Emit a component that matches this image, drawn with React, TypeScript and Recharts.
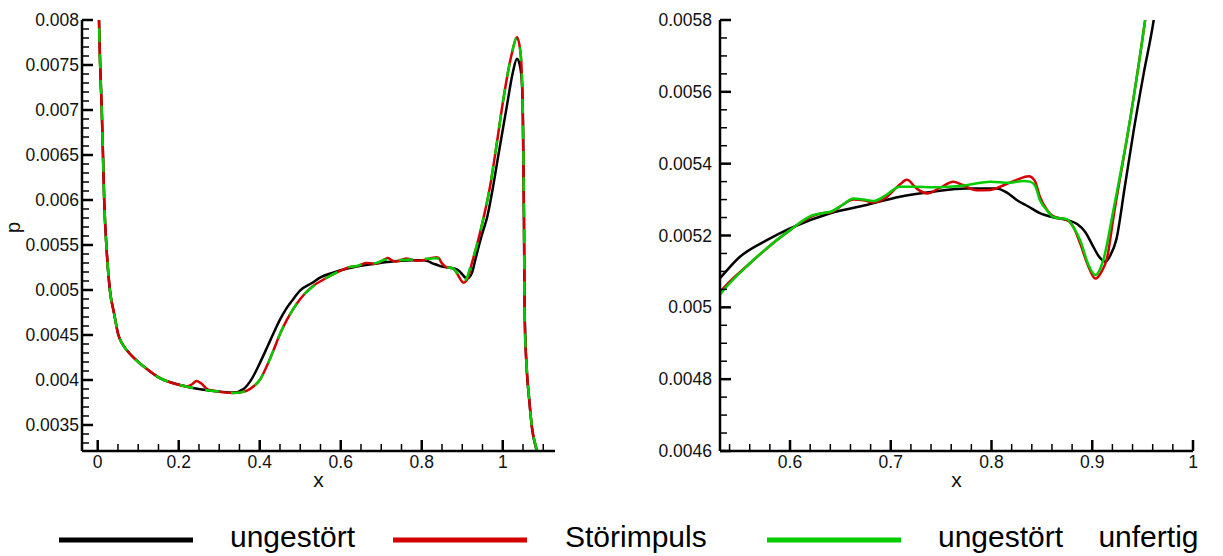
import React from 'react';
import { LineChart, Line, XAxis, YAxis } from 'recharts';

// ungestört (black)
const xBlack = [
  0.002, 0.006, 0.01, 0.013, 0.016, 0.022, 0.03, 0.04, 0.051, 0.061, 0.072, 0.088, 0.104, 0.128, 0.154,
  0.203, 0.253, 0.302, 0.335, 0.36, 0.38, 0.4, 0.42, 0.434, 0.45, 0.466, 0.483, 0.5, 0.53, 0.55, 0.577,
  0.6, 0.64, 0.676, 0.709, 0.742, 0.775, 0.805, 0.815, 0.825, 0.837, 0.848, 0.862, 0.875, 0.885, 0.893,
  0.901, 0.907, 0.913, 0.918, 0.924, 0.932, 0.941, 0.951, 0.961, 0.975, 0.99, 1.01, 1.025, 1.035, 1.042,
  1.047, 1.05, 1.052, 1.054, 1.059, 1.065, 1.072, 1.084, 1.09,
];
const pBlack = [
  0.0082, 0.0075, 0.007, 0.0065, 0.006, 0.00545, 0.005, 0.00475, 0.0045, 0.0044, 0.00433, 0.00425,
  0.004185, 0.0041, 0.00402, 0.003944, 0.003897, 0.00387, 0.00386, 0.0039, 0.00401, 0.004185, 0.00438,
  0.004519, 0.00467, 0.004796, 0.0049, 0.004995, 0.00508, 0.00514, 0.005187, 0.00522, 0.005262, 0.005285,
  0.005308, 0.005322, 0.005331, 0.005331, 0.00532, 0.005299, 0.00528, 0.005262, 0.00525, 0.005243,
  0.005232, 0.00521, 0.005169, 0.00514, 0.005127, 0.005145, 0.00519, 0.00533, 0.00549, 0.00565, 0.0058,
  0.00612, 0.00652, 0.00704, 0.00742, 0.00757, 0.0075, 0.00733, 0.0069, 0.006, 0.0048, 0.00413, 0.0038,
  0.00347, 0.00321, 0.0031,
];

// Störimpuls (red)
const xRed = [
  0.002, 0.006, 0.01, 0.013, 0.016, 0.022, 0.03, 0.04, 0.051, 0.061, 0.072, 0.088, 0.104, 0.128, 0.154,
  0.203, 0.22, 0.232, 0.244, 0.256, 0.27, 0.285, 0.302, 0.335, 0.368, 0.385, 0.4, 0.417, 0.434, 0.45,
  0.467, 0.483, 0.5, 0.53, 0.56, 0.6, 0.623, 0.632, 0.64, 0.652, 0.663, 0.673, 0.683, 0.695, 0.709, 0.716,
  0.726, 0.736, 0.749, 0.762, 0.772, 0.785, 0.799, 0.812, 0.825, 0.837, 0.843, 0.848, 0.855, 0.861, 0.868,
  0.875, 0.882, 0.888, 0.896, 0.903, 0.909, 0.915, 0.921, 0.938, 0.9525, 0.969, 0.985, 1.0015, 1.022,
  1.035, 1.044, 1.049, 1.0525, 1.054, 1.059, 1.065, 1.072, 1.084, 1.09,
];
const pRed = [
  0.0082, 0.0075, 0.007, 0.0065, 0.006, 0.00545, 0.005, 0.00475, 0.0045, 0.0044, 0.00433, 0.00425,
  0.004185, 0.0041, 0.00402, 0.003944, 0.00393, 0.00395, 0.00399, 0.00396, 0.0039, 0.00388, 0.00387,
  0.003855, 0.00388, 0.00393, 0.004, 0.00415, 0.00433, 0.00451, 0.004667, 0.00479, 0.0049, 0.00504,
  0.005122, 0.005215, 0.005255, 0.005262, 0.005264, 0.005285, 0.0053, 0.005298, 0.005292, 0.005305,
  0.005342, 0.005355, 0.00533, 0.005317, 0.005333, 0.00535, 0.00534, 0.005326, 0.005327, 0.00534,
  0.005355, 0.005365, 0.005352, 0.005308, 0.005272, 0.005254, 0.005248, 0.005243, 0.00522, 0.005178,
  0.005115, 0.00508, 0.005098, 0.005141, 0.00525, 0.00553, 0.0058, 0.00616, 0.00662, 0.00712, 0.00762,
  0.007808, 0.00763, 0.00707, 0.00578, 0.0047, 0.004148, 0.0038, 0.003481, 0.003222, 0.0031,
];

// ungestört unfertig (green)
const xGreen = [
  0.002, 0.006, 0.01, 0.013, 0.016, 0.022, 0.03, 0.04, 0.051, 0.061, 0.072, 0.088, 0.104, 0.128, 0.154,
  0.203, 0.253, 0.302, 0.335, 0.368, 0.385, 0.4, 0.417, 0.434, 0.45, 0.467, 0.483, 0.5, 0.53, 0.56, 0.6,
  0.623, 0.632, 0.64, 0.652, 0.663, 0.673, 0.683, 0.695, 0.709, 0.725, 0.742, 0.775, 0.799, 0.818, 0.832,
  0.838, 0.843, 0.848, 0.855, 0.861, 0.868, 0.875, 0.882, 0.888, 0.896, 0.903, 0.911, 0.921, 0.938,
  0.9525, 0.969, 0.985, 1.0015, 1.022, 1.035, 1.044, 1.049, 1.0525, 1.054, 1.059, 1.065, 1.072, 1.084,
  1.09,
];
const pGreen = [
  0.0082, 0.0075, 0.007, 0.0065, 0.006, 0.00545, 0.005, 0.00475, 0.0045, 0.0044, 0.00433, 0.00425,
  0.004185, 0.0041, 0.00402, 0.003944, 0.003897, 0.00387, 0.003855, 0.00388, 0.00393, 0.004, 0.00415,
  0.00433, 0.00451, 0.004667, 0.00479, 0.0049, 0.005034, 0.005122, 0.005215, 0.005257, 0.005262,
  0.005266, 0.005285, 0.005303, 0.0053, 0.005296, 0.005312, 0.005336, 0.005336, 0.005334, 0.00534,
  0.00535, 0.005347, 0.005352, 0.00535, 0.00534, 0.005299, 0.00527, 0.005252, 0.005248, 0.005245,
  0.00522, 0.005187, 0.00512, 0.00509, 0.005132, 0.005271, 0.00553, 0.0058, 0.00616, 0.00662, 0.00712,
  0.00762, 0.007808, 0.00763, 0.00707, 0.00578, 0.0047, 0.004148, 0.0038, 0.003481, 0.003222, 0.0031,
];

const leftXMajor = [0, 0.2, 0.4, 0.6, 0.8, 1];
const leftYMajor = [0.0035, 0.004, 0.0045, 0.005, 0.0055, 0.006, 0.0065, 0.007, 0.0075, 0.008];
const rightXMajor = [0.6, 0.7, 0.8, 0.9, 1];
const rightYMajor = [0.0046, 0.0048, 0.005, 0.0052, 0.0054, 0.0056, 0.0058];

const zip = (xs: number[], ps: number[]) => xs.map((x, i) => ({ x, p: ps[i] }));

const SERIES = [
  { name: 'ungestört', color: '#000000', data: zip(xBlack, pBlack) },
  { name: 'Störimpuls', color: '#d40000', data: zip(xRed, pRed) },
  { name: 'ungestört unfertig', color: '#00cc00', data: zip(xGreen, pGreen) },
];

const FONT = '"Liberation Sans", Arial, Helvetica, sans-serif';
const TICK_FONT = 17.5;

// ticks every `step` between from and to (minor ticks), majors carry the labels
const tickRange = (from: number, to: number, step: number) => {
  const n = Math.round((to - from) / step);
  return Array.from({ length: n + 1 }, (_, i) => Number((from + i * step).toFixed(6)));
};

const findMajor = (majors: number[], v: number) => majors.find((m) => Math.abs(m - v) < 1e-9);

const xTick = (majors: number[]) => (props: any) => {
  const { x, y, payload } = props;
  const m = findMajor(majors, payload.value);
  const isMajor = m !== undefined;
  return (
    <g>
      <line x1={x} x2={x} y1={y} y2={y - (isMajor ? 11 : 7)} stroke="#000" strokeWidth={isMajor ? 2.5 : 1.5} />
      {isMajor && (
        <text x={x} y={y + 17} textAnchor="middle" fontSize={TICK_FONT} fontFamily={FONT} fill="#111">
          {String(m)}
        </text>
      )}
    </g>
  );
};

const yTick = (majors: number[], gap: number) => (props: any) => {
  const { x, y, payload } = props;
  const m = findMajor(majors, payload.value);
  const isMajor = m !== undefined;
  return (
    <g>
      <line x1={x} x2={x + (isMajor ? 11 : 7)} y1={y} y2={y} stroke="#000" strokeWidth={isMajor ? 2.5 : 1.5} />
      {isMajor && (
        <text x={x - gap} y={y + 6} textAnchor="end" fontSize={TICK_FONT} fontFamily={FONT} fill="#111">
          {String(m)}
        </text>
      )}
    </g>
  );
};

// axis titles drawn from the axis viewBox
const xTitle = (props: any) => {
  const vb = props.viewBox || {};
  return (
    <text x={vb.x + vb.width / 2} y={vb.y + 36} textAnchor="middle" fontSize={21} fontFamily={FONT} fill="#111">
      x
    </text>
  );
};

const pTitle = (props: any) => {
  const vb = props.viewBox || {};
  const cx = vb.x + 8;
  const cy = vb.y + vb.height / 2 - 8;
  return (
    <text x={cx} y={cy} transform={`rotate(-90, ${cx}, ${cy})`} textAnchor="middle" fontSize={20} fontFamily={FONT} fill="#111">
      p
    </text>
  );
};

const axisLine = { stroke: '#000', strokeWidth: 2.5 };

function LeftChart() {
  return (
    <LineChart width={600} height={500} margin={{ top: 20, right: 45, bottom: 9, left: 12 }}>
      <XAxis
        type="number"
        dataKey="x"
        domain={[-0.0388, 1.129]}
        allowDataOverflow
        ticks={tickRange(0, 1.1, 0.05)}
        interval={0}
        tick={xTick(leftXMajor)}
        tickLine={false}
        tickSize={0}
        tickMargin={0}
        height={40}
        axisLine={axisLine}
        label={xTitle}
      />
      <YAxis
        type="number"
        dataKey="p"
        domain={[0.003211, 0.008]}
        allowDataOverflow
        ticks={tickRange(0.0033, 0.008, 0.0001)}
        interval={0}
        tick={yTick(leftYMajor, 3)}
        tickLine={false}
        tickSize={0}
        tickMargin={0}
        width={70}
        axisLine={axisLine}
        label={pTitle}
      />
      {SERIES.map((s, i) => (
        <Line
          key={s.name}
          data={s.data}
          dataKey="p"
          name={s.name}
          type="monotone"
          stroke={s.color}
          strokeWidth={2.5}
          strokeDasharray={i === 2 ? '14 12' : undefined}
          dot={false}
          isAnimationActive={false}
        />
      ))}
    </LineChart>
  );
}

function RightChart() {
  return (
    <LineChart width={623} height={500} margin={{ top: 20, right: 30, bottom: 9, left: 40 }}>
      <XAxis
        type="number"
        dataKey="x"
        domain={[0.5305, 1.0]}
        allowDataOverflow
        ticks={tickRange(0.54, 1.0, 0.02)}
        interval={0}
        tick={xTick(rightXMajor)}
        tickLine={false}
        tickSize={0}
        tickMargin={0}
        height={40}
        axisLine={axisLine}
        label={xTitle}
      />
      <YAxis
        type="number"
        dataKey="p"
        domain={[0.0046, 0.0058]}
        allowDataOverflow
        ticks={tickRange(0.0046, 0.0058, 0.00005)}
        interval={0}
        tick={yTick(rightYMajor, 8)}
        tickLine={false}
        tickSize={0}
        tickMargin={0}
        width={80}
        axisLine={axisLine}
      />
      {SERIES.map((s) => (
        <Line
          key={s.name}
          data={s.data}
          dataKey="p"
          name={s.name}
          type="monotone"
          stroke={s.color}
          strokeWidth={2.5}
          dot={false}
          isAnimationActive={false}
        />
      ))}
    </LineChart>
  );
}

// legend layout: line start/end and text start for each series
const LEGEND_LAYOUT = [
  { x1: 59, x2: 193, tx: 230 },
  { x1: 393, x2: 527, tx: 565 },
  { x1: 767, x2: 901, tx: 938 },
];

function BottomLegend() {
  return (
    <svg width={1223} height={56} style={{ position: 'absolute', left: 0, top: 500 }}>
      {SERIES.map((s, i) => (
        <g key={s.name}>
          <line x1={LEGEND_LAYOUT[i].x1} x2={LEGEND_LAYOUT[i].x2} y1={40} y2={40} stroke={s.color} strokeWidth={5} />
          <text
            x={LEGEND_LAYOUT[i].tx}
            y={47}
            fontSize={30}
            fontFamily={FONT}
            fill="#000"
            wordSpacing={27}
          >
            {s.name}
          </text>
        </g>
      ))}
    </svg>
  );
}

export default function App() {
  return (
    <div style={{ position: 'absolute', left: 0, top: 0, width: 1223, height: 556, background: '#fff', fontFamily: FONT }}>
      <div style={{ position: 'absolute', left: 0, top: 0 }}>
        <LeftChart />
      </div>
      <div style={{ position: 'absolute', left: 600, top: 0 }}>
        <RightChart />
      </div>
      <BottomLegend />
    </div>
  );
}
